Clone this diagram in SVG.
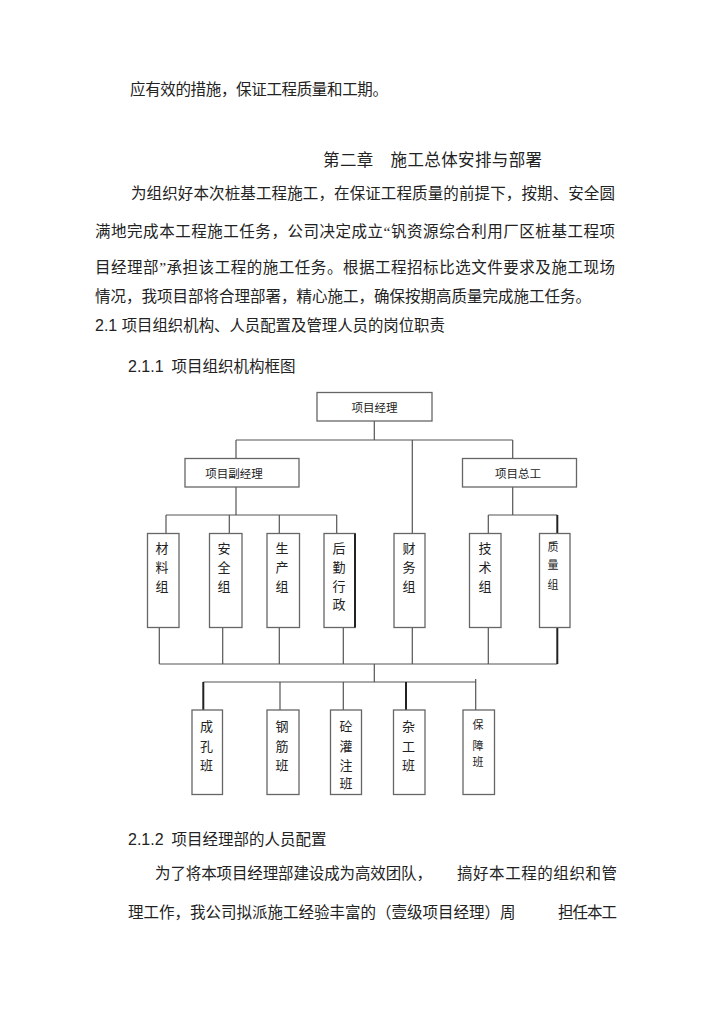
<svg xmlns="http://www.w3.org/2000/svg" width="720" height="1018" viewBox="0 0 720 1018">
<style>
.body{font-family:"Liberation Serif","Noto Sans CJK SC",serif;font-size:15.5px;fill:#222}
.num{font-family:"Liberation Sans","Noto Sans CJK SC",sans-serif;font-size:16px;fill:#222}
.box{fill:#fff;stroke:#666;stroke-width:1.3}
.lbl{font-family:"Noto Sans CJK SC",sans-serif;font-size:11.5px;fill:#222;text-anchor:middle}
.vl{font-family:"Noto Sans CJK SC",sans-serif;font-size:13px;fill:#222;text-anchor:middle}
.vs{font-family:"Noto Sans CJK SC",sans-serif;font-size:11px;fill:#222;text-anchor:middle}
.ln{stroke:#555;stroke-width:1.2;fill:none}
.lt{stroke:#222;stroke-width:2;fill:none}
</style>
<rect width="720" height="1018" fill="#fff"/>
<g id="text-top">
<text class="body" x="130" y="95" textLength="258" lengthAdjust="spacing">应有效的措施，保证工程质量和工期。</text>
<text class="body" x="323" y="166" style="font-size:16.5px" textLength="219" lengthAdjust="spacing">第二章　施工总体安排与部署</text>
<text class="body" x="131" y="199" textLength="484" lengthAdjust="spacing">为组织好本次桩基工程施工，在保证工程质量的前提下，按期、安全圆</text>
<text class="body" x="95" y="237" textLength="520" lengthAdjust="spacing">满地完成本工程施工任务，公司决定成立“钒资源综合利用厂区桩基工程项</text>
<text class="body" x="95" y="273" textLength="520" lengthAdjust="spacing">目经理部”承担该工程的施工任务。根据工程招标比选文件要求及施工现场</text>
<text class="body" x="95" y="302">情况，我项目部将合理部署，精心施工，确保按期高质量完成施工任务。</text>
<text x="95" y="331"><tspan class="num">2.1 </tspan><tspan class="body" style="font-size:15.4px">项目组织机构、人员配置及管理人员的岗位职责</tspan></text>
<text x="128" y="372"><tspan class="num">2.1.1</tspan><tspan class="body" dx="8">项目组织机构框图</tspan></text>
</g>
<g id="connectors">
<path class="ln" d="M374.3 421V440M236 440H512.7M236 440V458M412.3 440V533M512.7 440V458"/>
<path class="ln" d="M236 487V515M166 515H336.7M166 515V533M229.3 515V533M279.3 515V533M336.7 515V533"/>
<path class="ln" d="M512.7 487V515M488.3 515H557.3M488.3 515V533"/>
<path class="lt" d="M557.3 515V533"/>
<path class="ln" d="M159.3 627V664M222.7 627V664M279.3 627V664M343.3 627V664M412.3 627V664M488.3 627V664M159.3 664H557.3"/>
<path class="lt" d="M557.3 627V664"/>
<path class="ln" d="M374.3 664V682M203.3 682H475.7M280 682V710M343.3 682V710M475.7 679V710"/>
<path class="lt" d="M203.3 682V710M406 682V710"/>
</g>
<g id="n-pm"><rect class="box" x="317" y="392.5" width="115" height="28.5"/><text class="lbl" x="374.5" y="411.5">项目经理</text></g>
<g id="n-dpm"><rect class="box" x="185" y="458.5" width="114" height="28.5"/><text class="lbl" x="234" y="477.5">项目副经理</text></g>
<g id="n-ce"><rect class="box" x="462.5" y="458.5" width="114" height="28.5"/><text class="lbl" x="518" y="477.5">项目总工</text></g>
<g id="n-cl"><rect class="box" x="147.5" y="533.5" width="31.5" height="94"/><text class="vl" x="162" y="553">材</text><text class="vl" x="162" y="572">料</text><text class="vl" x="162" y="591">组</text></g>
<g id="n-aq"><rect class="box" x="209.5" y="533.5" width="32.5" height="94"/><text class="vl" x="224" y="553">安</text><text class="vl" x="224" y="572">全</text><text class="vl" x="224" y="591">组</text></g>
<g id="n-sc"><rect class="box" x="267" y="533.5" width="32.5" height="94"/><text class="vl" x="282" y="553">生</text><text class="vl" x="282" y="572">产</text><text class="vl" x="282" y="591">组</text></g>
<g id="n-hq"><rect class="box" x="324" y="533.5" width="31" height="94"/><line class="lt" x1="355" y1="533.5" x2="355" y2="627.5"/><text class="vl" x="339" y="553">后</text><text class="vl" x="339" y="572">勤</text><text class="vl" x="339" y="591">行</text><text class="vl" x="339" y="609">政</text></g>
<g id="n-cw"><rect class="box" x="394" y="533.5" width="31" height="94"/><text class="vl" x="409" y="553">财</text><text class="vl" x="409" y="572">务</text><text class="vl" x="409" y="591">组</text></g>
<g id="n-js"><rect class="box" x="469.5" y="533.5" width="31.5" height="94"/><text class="vl" x="485" y="553">技</text><text class="vl" x="485" y="572">术</text><text class="vl" x="485" y="591">组</text></g>
<g id="n-zl"><rect class="box" x="539.5" y="533.5" width="30.5" height="94"/><text class="vs" x="553" y="551">质</text><text class="vs" x="553" y="569">量</text><text class="vs" x="553" y="589">组</text></g>
<g id="n-ck"><rect class="box" x="192" y="710" width="30.5" height="84.5"/><text class="vl" x="206.5" y="731">成</text><text class="vl" x="206.5" y="751">孔</text><text class="vl" x="206.5" y="770">班</text></g>
<g id="n-gj"><rect class="box" x="267" y="710" width="32" height="84.5"/><text class="vl" x="282" y="731">钢</text><text class="vl" x="282" y="751">筋</text><text class="vl" x="282" y="770">班</text></g>
<g id="n-tg"><rect class="box" x="330.5" y="710" width="31" height="84.5"/><text class="vl" x="346" y="731">砼</text><text class="vl" x="346" y="751">灌</text><text class="vl" x="346" y="770">注</text><text class="vl" x="346" y="788">班</text></g>
<g id="n-zg"><rect class="box" x="393.5" y="710" width="31.5" height="84.5"/><text class="vl" x="408.5" y="731">杂</text><text class="vl" x="408.5" y="751">工</text><text class="vl" x="408.5" y="770">班</text></g>
<g id="n-bz"><rect class="box" x="463" y="710" width="31.5" height="84.5"/><text class="vs" x="478" y="729">保</text><text class="vs" x="478" y="750">障</text><text class="vs" x="478" y="766">班</text></g>
<g id="text-bottom">
<text x="128" y="845"><tspan class="num">2.1.2</tspan><tspan class="body" dx="8">项目经理部的人员配置</tspan></text>
<text class="body" x="155" y="879" textLength="277" lengthAdjust="spacing">为了将本项目经理部建设成为高效团队，</text>
<text class="body" x="457" y="879" textLength="160" lengthAdjust="spacing">搞好本工程的组织和管</text>
<text class="body" x="128" y="918">理工作，我公司拟派施工经验丰富的（壹级项目经理）周</text>
<text class="body" x="558" y="918" textLength="59" lengthAdjust="spacing">担任本工</text>
</g>
</svg>
